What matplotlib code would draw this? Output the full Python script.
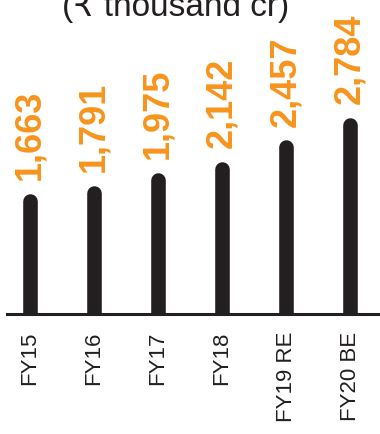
import matplotlib
matplotlib.use("Agg")
from matplotlib import pyplot as plt

# Data
years = ["FY15", "FY16", "FY17", "FY18", "FY19 RE", "FY20 BE"]
values = [1663, 1791, 1975, 2142, 2457, 2784]
value_labels = ["1,663", "1,791", "1,975", "2,142", "2,457", "2,784"]

plt.rcParams['font.family'] = ['Liberation Sans', 'DejaVu Sans']

fig = plt.figure(figsize=(3.8, 4.34), dpi=100)
fig.patch.set_facecolor('white')

# Axes: baseline at y=314 px, from x=7 to right edge
ax = fig.add_axes([7 / 380, (434 - 314) / 434, 373 / 380, 314 / 434])
ax.set_facecolor('white')

x = list(range(len(years)))
# Thin bars with rounded tops
ax.vlines(x, 0, values, colors='#231f20', linewidth=10.5, capstyle='round', zorder=2)

# Value labels above the bars
for xi, v, lab in zip(x, values, value_labels):
    ax.annotate(lab, (xi, v), xytext=(0, 15), textcoords='offset points',
                rotation=90, ha='center', va='bottom', color='#f7941d',
                fontsize=26, fontweight='bold', annotation_clip=False)

ax.set_xlim(-23 / 64, (380 - 30) / 64)
ax.set_ylim(0, 4630)

ax.set_xticks(x)
ax.set_xticklabels(years, rotation=90, fontsize=16, color='#231f20')
ax.tick_params(axis='x', length=0, pad=13)
ax.set_yticks([])

for side in ['top', 'right', 'left']:
    ax.spines[side].set_visible(False)
ax.spines['bottom'].set_linewidth(2.2)
ax.spines['bottom'].set_color('#231f20')
ax.spines['bottom'].set_zorder(3)

# Unit title, partly cut off at the top as in the reference
fig.text(176 / 380, 1 - 16 / 434, "(\u20b9 thousand cr)", ha='center', va='baseline',
         fontsize=24, color='#231f20')

fig.savefig("out.png", dpi=100, facecolor='white')
